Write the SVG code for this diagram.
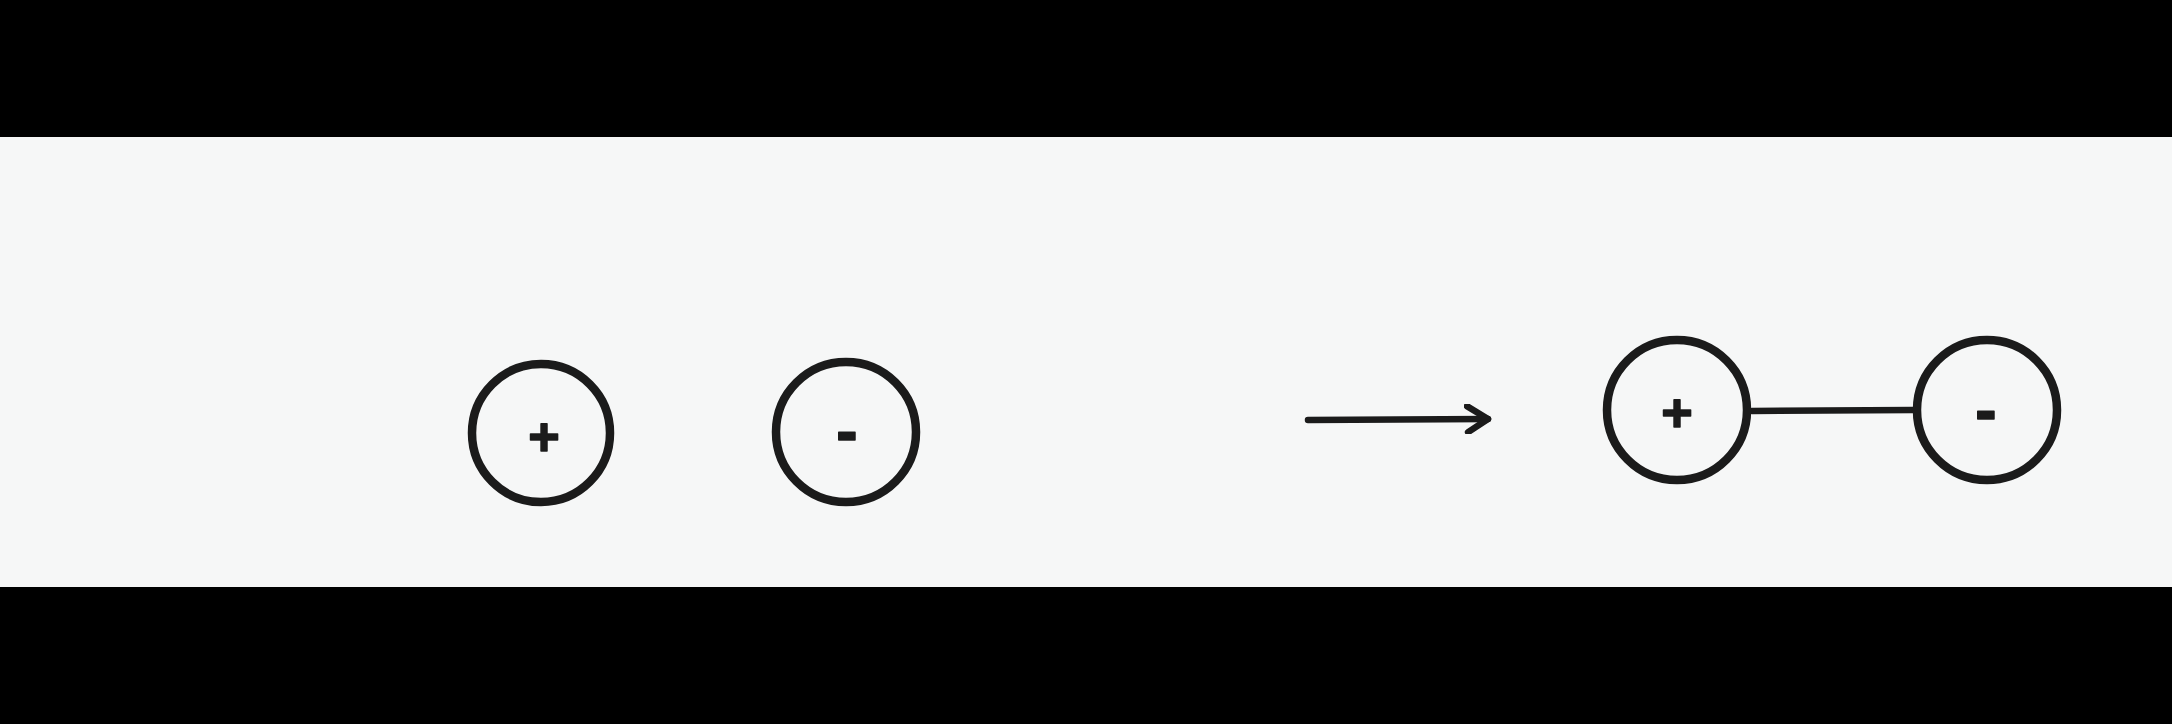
<svg xmlns="http://www.w3.org/2000/svg" width="2172" height="724" viewBox="0 0 2172 724">
  <style>
    .ring { fill: none; stroke: #1b1b1b; stroke-width: 8.5; }
    .sign { font-family: "Liberation Sans", Arial, sans-serif; font-weight: bold; fill: #1b1b1b; stroke: #1b1b1b; stroke-width: 1.5; stroke-linejoin: round; text-anchor: middle; }
    .plus { font-size: 54px; }
    .minus { font-size: 64px; }
    .wire { fill: none; stroke: #1b1b1b; stroke-width: 6.5; stroke-linecap: round; stroke-linejoin: round; }
  </style>
  <defs>
    <marker id="chev" viewBox="0 0 30 30" refX="24" refY="15" markerWidth="30" markerHeight="30" markerUnits="userSpaceOnUse" orient="auto">
      <path d="M3 2 L24 15 L4 28" fill="none" stroke="#1b1b1b" stroke-width="6.5" stroke-linecap="round" stroke-linejoin="round"/>
    </marker>
  </defs>
  <rect x="0" y="0" width="2172" height="724" fill="#000000"/>
  <rect x="0" y="137" width="2172" height="450" fill="#f6f7f7"/>

  <g id="connectors">
    <path id="reaction-arrow" class="wire" d="M1308 420 L1488 419" marker-end="url(#chev)"/>
    <path id="bond" class="wire" d="M1752 411 L1913 410"/>
  </g>

  <g id="node-plus-1">
    <circle class="ring" cx="541" cy="433" r="69"/>
    <text class="sign plus" x="544" y="455">+</text>
  </g>
  <g id="node-minus-1">
    <circle class="ring" cx="846" cy="432" r="70"/>
    <text class="sign minus" x="847" y="453">-</text>
  </g>
  <g id="node-plus-2">
    <circle class="ring" cx="1677" cy="410" r="70"/>
    <text class="sign plus" x="1677" y="431">+</text>
  </g>
  <g id="node-minus-2">
    <circle class="ring" cx="1987" cy="410" r="70"/>
    <text class="sign minus" x="1986" y="432">-</text>
  </g>
</svg>
